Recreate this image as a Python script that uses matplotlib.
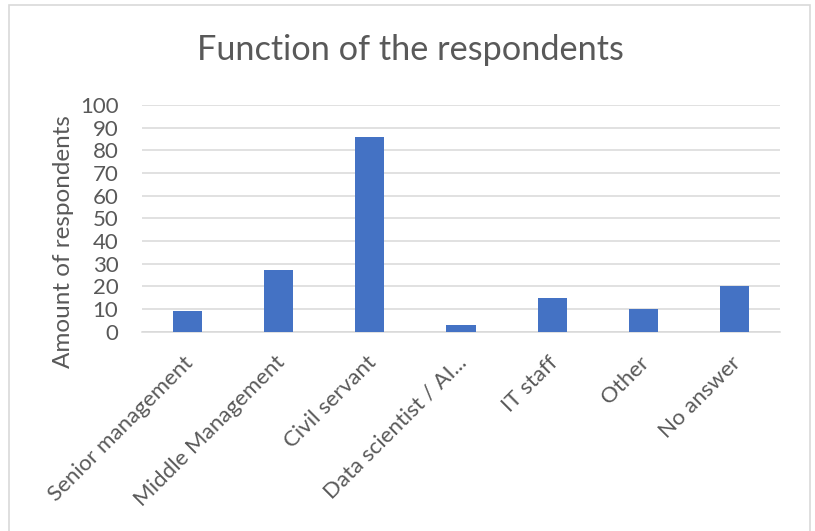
import matplotlib.pyplot as plt
from matplotlib.patches import Rectangle
from matplotlib.transforms import ScaledTranslation

# Survey counts per respondent function
categories = ['Senior management', 'Middle Management', 'Civil servant',
              'Data scientist / AI...', 'IT staff', 'Other', 'No answer']
counts = [9, 27, 86, 3, 15, 10, 20]
y_ticks = list(range(0, 101, 10))

text_color = '#595959'
grid_color = '#d9d9d9'
bar_color = '#4472c4'

plt.rcParams['font.family'] = ['Lato', 'DejaVu Sans']

fig = plt.figure(figsize=(8.15, 5.31), dpi=100)
ax = fig.add_axes([142 / 815, 1 - 331.7 / 531, (780 - 142) / 815, (331.7 - 105) / 531])

x = range(len(categories))
ax.bar(x, counts, width=0.32, color=bar_color, zorder=3)

ax.set_ylim(0, 100)
ax.set_xlim(-0.5, len(categories) - 0.5)
ax.set_yticks(y_ticks)
ax.set_yticklabels([str(v) for v in y_ticks], fontsize=16, color=text_color)
ax.set_xticks(list(x))
ax.set_xticklabels(categories, rotation=45, ha='right', rotation_mode='anchor',
                   fontsize=16, color=text_color)
ax.tick_params(axis='both', length=0)
ax.tick_params(axis='x', pad=15)
ax.tick_params(axis='y', pad=17)

# nudge the slanted labels so they end right under their bar
shift = ScaledTranslation(-3 / 72, 0, fig.dpi_scale_trans)
for lbl in ax.get_xticklabels():
    lbl.set_transform(lbl.get_transform() + shift)

ax.grid(axis='y', color=grid_color, linewidth=1.1, zorder=0)
for side in ['top', 'right', 'left']:
    ax.spines[side].set_visible(False)
ax.spines['bottom'].set_color(grid_color)
ax.spines['bottom'].set_linewidth(1.1)

fig.text(63 / 815, 1 - 242 / 531, 'Amount of respondents', fontsize=17.5,
         color=text_color, rotation=90, ha='center', va='center')
fig.text(0.503, 1 - 50 / 531, 'Function of the respondents', fontsize=24.7,
         color=text_color, ha='center', va='center')

# Chart frame
fig.patches.append(Rectangle((8.5 / 815, -0.01), (809.5 - 8.5) / 815, 1 - 5.5 / 531 + 0.01,
                             transform=fig.transFigure, fill=False,
                             edgecolor=grid_color, linewidth=1.2))

fig.savefig('out.png', dpi=100)
